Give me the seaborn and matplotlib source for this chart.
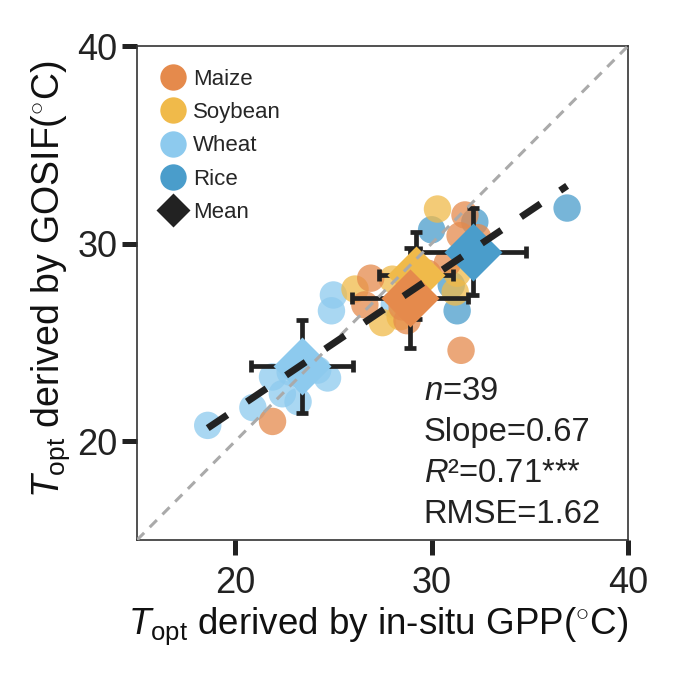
import numpy as np
import pandas as pd
import matplotlib
matplotlib.use('Agg')
import matplotlib.pyplot as plt
from matplotlib.lines import Line2D
import seaborn as sns

sns.set_style('white')
plt.rcParams['font.family'] = ['Liberation Sans', 'DejaVu Sans']
plt.rcParams['mathtext.fontset'] = 'custom'
plt.rcParams['mathtext.rm'] = 'Liberation Sans'
plt.rcParams['mathtext.it'] = 'Liberation Sans:italic'

# site values (in-situ GPP Topt, GOSIF Topt)
rice_x = [36.9, 30.0, 32.2, 31.3, 31.0, 32.0]
rice_y = [31.8, 30.7, 31.1, 26.6, 27.9, 29.5]
wheat_x = [18.6, 20.9, 21.9, 22.4, 23.2, 24.2, 24.7, 25.0, 24.9, 28.1, 23.4, 22.8]
wheat_y = [20.8, 21.7, 23.25, 22.4, 22.0, 23.6, 23.2, 27.4, 26.6, 26.9, 23.9, 23.5]
soy_x = [30.3, 27.5, 26.1, 28.4, 31.2, 31.3, 29.2, 28.0, 28.6]
soy_y = [31.75, 26.0, 27.7, 26.3, 27.55, 28.5, 28.6, 28.2, 27.0]
maize_x = [31.5, 31.7, 31.45, 32.35, 26.9, 26.6, 28.75, 21.9, 29.8, 28.9, 28.5, 30.8]
maize_y = [24.6, 31.45, 30.4, 30.3, 28.25, 26.9, 26.1, 21.0, 28.5, 27.3, 26.8, 29.0]

crops = ['Maize', 'Soybean', 'Wheat', 'Rice']
colors = {'Maize': '#E58A4C', 'Soybean': '#F0BA4A', 'Wheat': '#8DCAEE', 'Rice': '#4A9DCB'}

# crop means and standard deviations
mean_x = {'Maize': 28.9, 'Soybean': 29.2, 'Wheat': 23.4, 'Rice': 32.1}
mean_y = {'Maize': 27.25, 'Soybean': 28.4, 'Wheat': 23.8, 'Rice': 29.6}
sd_x = {'Maize': 2.95, 'Soybean': 1.9, 'Wheat': 2.6, 'Rice': 2.7}
sd_y = {'Maize': 2.55, 'Soybean': 2.2, 'Wheat': 2.35, 'Rice': 2.2}

slope = 0.67
intercept = 8.2

df = pd.concat([
    pd.DataFrame({'x': rice_x, 'y': rice_y, 'crop': 'Rice'}),
    pd.DataFrame({'x': wheat_x, 'y': wheat_y, 'crop': 'Wheat'}),
    pd.DataFrame({'x': soy_x, 'y': soy_y, 'crop': 'Soybean'}),
    pd.DataFrame({'x': maize_x, 'y': maize_y, 'crop': 'Maize'}),
], ignore_index=True)

fig = plt.figure(figsize=(6.77, 6.77), dpi=100)
ax = fig.add_axes([0.2024, 0.2024, 0.7252, 0.7296])

sns.scatterplot(data=df, x='x', y='y', hue='crop', hue_order=crops, palette=colors,
                s=390, alpha=0.75, linewidth=0, legend=False, ax=ax, zorder=1)

for c in ['Wheat', 'Soybean', 'Maize', 'Rice']:
    ax.errorbar(mean_x[c], mean_y[c], xerr=sd_x[c], yerr=sd_y[c], fmt='D', ms=30,
                mfc=colors[c], mec='none', ecolor='#222222', elinewidth=3.4,
                capsize=4, capthick=3.4, zorder=2)

ax.plot([15, 40], [15, 40], color='#AAAAAA', lw=2.2, ls=(0, (3.3, 2.6)), zorder=3)
xs = np.array([df['x'].min(), df['x'].max()])
ax.plot(xs, slope * xs + intercept, color='#222222', lw=5, ls=(0, (3.4, 3.4)), zorder=3)

ax.set_xlim(15, 40)
ax.set_ylim(15, 40)
ax.set_xticks([20, 30, 40])
ax.set_yticks([20, 30, 40])
ax.tick_params(axis='both', direction='out', length=11, width=3.6, color='#222222',
               labelsize=26, bottom=True, left=True, labelcolor='#222222')
ax.tick_params(axis='x', pad=8)
ax.tick_params(axis='y', pad=3)
for sp in ax.spines.values():
    sp.set_linewidth(1.2)
    sp.set_color('#333333')

ax.set_xlabel(r'$T_{\mathrm{opt}}$ derived by in-situ GPP($^{\circ}$C)', fontsize=26.5,
              labelpad=3, color='#111111')
ax.set_ylabel(r'$T_{\mathrm{opt}}$ derived by GOSIF($^{\circ}$C)', fontsize=27,
              labelpad=4, color='#111111')
ax.xaxis.label.set_x(0.49)
ax.yaxis.label.set_y(0.528)

stats = [r'$n$=39', 'Slope=0.67', r'$R$²=0.71***', 'RMSE=1.62']
for i, t in enumerate(stats):
    ax.text(0.584, 0.30 - i * 0.083, t, transform=ax.transAxes, fontsize=23.6,
            ha='left', va='center', color='#222222')

handles = [Line2D([], [], marker='o', ls='none', ms=19, mfc=colors[c], mec='none')
           for c in crops]
handles.append(Line2D([], [], marker='D', ls='none', ms=17, mfc='#222222', mec='none'))
ax.legend(handles, crops + ['Mean'], loc='upper left', frameon=False, fontsize=16,
          handlelength=1.6, handletextpad=0.1, labelspacing=0.55, borderaxespad=0.3,
          bbox_to_anchor=(0.005, 0.985))

fig.savefig('out.png', dpi=100)
